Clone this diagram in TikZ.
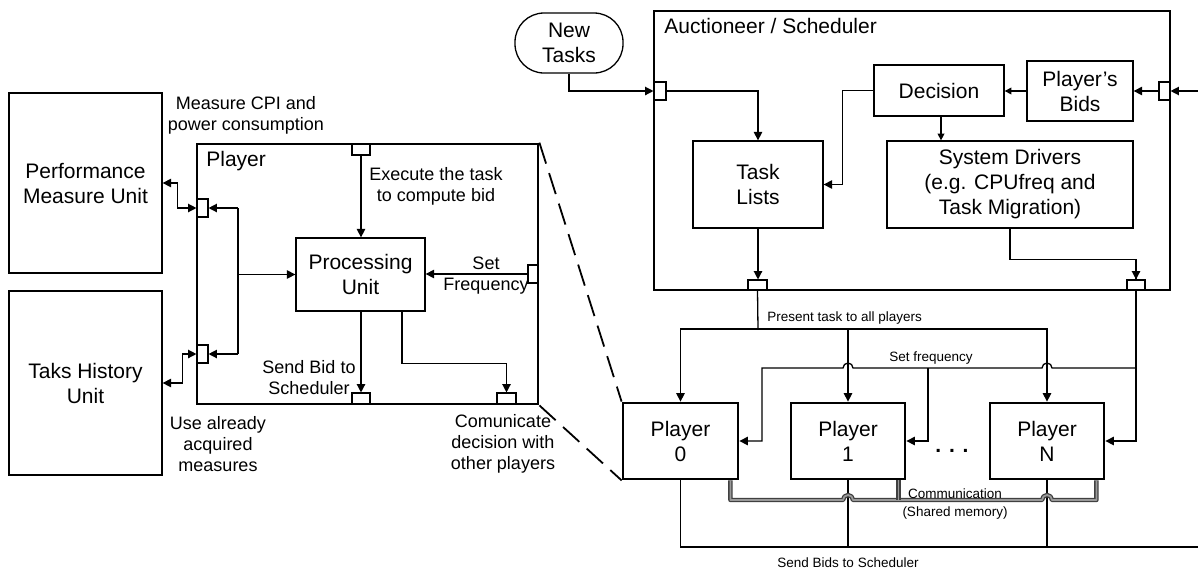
\documentclass[tikz,border=0pt]{standalone}
\usepackage{fontspec}
\setmainfont{Liberation Sans}
\usetikzlibrary{arrows.meta}
\begin{document}
\begin{tikzpicture}[x=0.5pt,y=-0.5pt,
  every node/.style={inner sep=0pt},
  bigfont/.style={font=\fontsize{10.5pt}{12.5pt}\selectfont, align=center},
  medfont/.style={font=\fontsize{9pt}{10.5pt}\selectfont, align=center},
  smallfont/.style={font=\fontsize{6.75pt}{9pt}\selectfont, align=center},
  unitbox/.style={draw, line width=0.65pt, bigfont},
  mainbox/.style={draw, line width=1.4pt, bigfont},
  port/.style={draw, line width=0.55pt, fill=white},
  wire/.style={line width=0.65pt},
  arr/.style={wire, -{Triangle[length=4.2pt,width=4.2pt]}},
  arrs/.style={wire, -{Triangle[length=3.4pt,width=3.4pt]}},
  dblarr/.style={wire, {Triangle[length=4.2pt,width=4.2pt]}-{Triangle[length=4.2pt,width=4.2pt]}},
  pipe/.style={line width=0.65pt, draw=black!75, double=black!40, double distance=0.9pt, line join=round},
  zoomline/.style={line width=0.9pt, dash pattern=on 11pt off 5pt}
]
\fill[white] (0,0) rectangle (1198,569);
\useasboundingbox (0,0) rectangle (1198,569);

% ---------- measurement units ----------
\node[unitbox, minimum width=76.5pt, minimum height=90pt] (pmu) at (85.5,183) {Performance\\Measure Unit};
\node[unitbox, minimum width=76.5pt, minimum height=92pt] (thu) at (85.5,383) {Taks History\\Unit};

% ---------- detailed player ----------
\node[mainbox, minimum width=170.5pt, minimum height=130pt] (pl) at (367.5,274) {};
\node[bigfont, anchor=base west] at (206,166) {Player};
\node[unitbox, minimum width=64.5pt, minimum height=36.5pt] (proc) at (360.5,274.5) {Processing\\Unit};

\node[port, minimum width=9pt, minimum height=5.5pt] (pTop) at (361,149.5) {};
\node[port, minimum width=5.5pt, minimum height=9pt] (pL1) at (202.5,208) {};
\node[port, minimum width=5.5pt, minimum height=9pt] (pL2) at (202.5,354) {};
\node[port, minimum width=5pt, minimum height=9pt] (pR) at (533,274) {};
\node[port, minimum width=9pt, minimum height=5.5pt] (pB1) at (361,398.5) {};
\node[port, minimum width=9.5pt, minimum height=5.5pt] (pB2) at (506.5,398.5) {};

\draw[arr] (pTop.south) -- (pTop.south |- proc.north);
\draw[arr] (pR.west) -- (pR.west -| proc.east);
\coordinate (busT) at (238,208);
\coordinate (busB) at (238,354);
\draw[wire] (busT) -- (busB);
\draw[arr] (busT) -- (pL1.east);
\draw[arr] (busB) -- (pL2.east);
\draw[arr] (busT |- proc.west) -- (proc.west);
\draw[arr] (pB1.north |- proc.south) -- (pB1.north);
\draw[arr] ([xshift=20.75pt]proc.south) -- ++(0,52) -| (pB2.north);

\draw[dblarr] (pmu.east) -- ++(15,0) |- (pL1.west);
\draw[dblarr] (thu.east) -- ++(20,0) |- (pL2.west);

\node[medfont] at (246,115) {Measure CPI and\\power consumption};
\node[medfont] at (436,186) {Execute the task\\to compute bid};
\node[medfont] at (486,276) {Set\\Frequency};
\node[medfont] at (309,378) {Send Bid to\\Scheduler};
\node[medfont] at (218,444) {Use already\\acquired\\measures};
\node[medfont] at (503,444) {Comunicate\\decision with\\other players};

% ---------- auctioneer / scheduler ----------
\node[mainbox, minimum width=258pt, minimum height=139.5pt] (auc) at (912,150.5) {};
\node[bigfont, anchor=base west] at (664,33) {Auctioneer / Scheduler};
\node[draw, line width=0.65pt, bigfont, rounded corners=14.5pt, minimum width=54pt, minimum height=30pt] (nt) at (569,43) {New\\Tasks};

\node[unitbox, minimum width=65pt, minimum height=43.5pt] (tl) at (758,184.5) {Task\\Lists};
\node[unitbox, minimum width=65pt, minimum height=25.5pt] (dec) at (939,90.5) {Decision};
\node[unitbox, minimum width=53pt, minimum height=30pt] (pb) at (1080,91) {Player’s\\Bids};
\node[unitbox, minimum width=123pt, minimum height=43.5pt] (sd) at (1010,184.5) {System Drivers\\(e.g. CPUfreq and\\Task Migration)};

\node[port, minimum width=6pt, minimum height=9pt] (aL) at (660,91) {};
\node[port, minimum width=5.5pt, minimum height=9pt] (aR) at (1164.5,91) {};
\node[port, minimum width=9.5pt, minimum height=5pt] (aB1) at (757.5,285) {};
\node[port, minimum width=9pt, minimum height=5pt] (aB2) at (1136,285) {};

\draw[arr] (nt.south) |- (aL.west);
\draw[arr] (aL.east) -| (tl.north);
\draw[arr] (tl.south) -- (tl.south |- aB1.north);
\draw[arr] (dec.west) -- ++(-31,0) |- (tl.east);
\draw[arrs] (pb.west) -- (pb.west -| dec.east);
\draw[arr] (aR.west) -- (pb.east);
\coordinate (bidsIn) at (1198,91);
\draw[arr] (bidsIn) -- (aR.east);
\draw[arrs] ([xshift=1pt]dec.south) -- ([xshift=1pt]dec.south |- sd.north);
\draw[wire] (sd.south) -- ++(0,31) -| (aB2.north);
\draw[arr] (aB2.north |- 0,270) -- (aB2.north);

% ---------- player instances ----------
\node[mainbox, minimum width=57.5pt, minimum height=38pt] (p0) at (680.5,441) {Player\\0};
\node[mainbox, minimum width=57pt, minimum height=38pt] (p1) at (848,441) {Player\\1};
\node[mainbox, minimum width=57pt, minimum height=38pt] (pN) at (1047,441) {Player\\N};
\node[bigfont] at (952,451) {\textbf{. . .}};

\draw[zoomline] (pl.north east) -- (p0.north west);
\draw[zoomline] (pl.south east) -- (p0.south west);

% present task to all players
\coordinate (pres) at (758,329);
\draw[wire] (aB1.south) -- (pres);
\draw[arr] (pres) -| (p0.north);
\draw[arr] (pres) -| (pN.north);
\draw[arr] (p1.north |- pres) -- (p1.north);
\node[smallfont, anchor=west] at (767,318) {Present task to all players};

% set frequency
\coordinate (sf) at (1136,368);
\coordinate (sfN) at (pN.north |- sf);
\coordinate (sf1) at (p1.north |- sf);
\coordinate (sfL) at (762,368);
\coordinate (sfB) at (928,368);
\draw[arr] (aB2.south) |- (pN.east);
\draw[arr] (sf) -- ([xshift=2.5pt]sfN) arc[start angle=0,end angle=180,radius=2.5pt]
  -- ([xshift=2.5pt]sf1) arc[start angle=0,end angle=180,radius=2.5pt]
  -- (sfL) |- (p0.east);
\draw[arr] (sfB) |- (p1.east);
\node[smallfont] at (931,358) {Set frequency};

% send bids to scheduler
\coordinate (sb) at (1198,547);
\draw[wire] (p0.south) |- (sb);
\draw[wire] (p1.south) -- (p1.south |- sb);
\draw[wire] (pN.south) -- (pN.south |- sb);
\node[smallfont] at (848,563) {Send Bids to Scheduler};

% communication through shared memory
\coordinate (pipeY) at (0,500);
\coordinate (c0) at ([xshift=-4.5pt]p0.south east);
\coordinate (c1) at ([xshift=-4pt]p1.south east);
\coordinate (cN) at ([xshift=-4.5pt]pN.south east);
\coordinate (j1) at (p1.south |- pipeY);
\coordinate (jN) at (pN.south |- pipeY);
\draw[pipe] (c0) -- (c0 |- pipeY) -- ([xshift=-2.5pt]j1) arc[start angle=180,end angle=0,radius=2.5pt]
  -- ([xshift=-2.5pt]jN) arc[start angle=180,end angle=0,radius=2.5pt]
  -- (cN |- pipeY) -- (cN);
\draw[pipe] (c1) -- (c1 |- pipeY);
\node[smallfont] at (955,504) {Communication\\(Shared memory)};
\end{tikzpicture}
\end{document}
